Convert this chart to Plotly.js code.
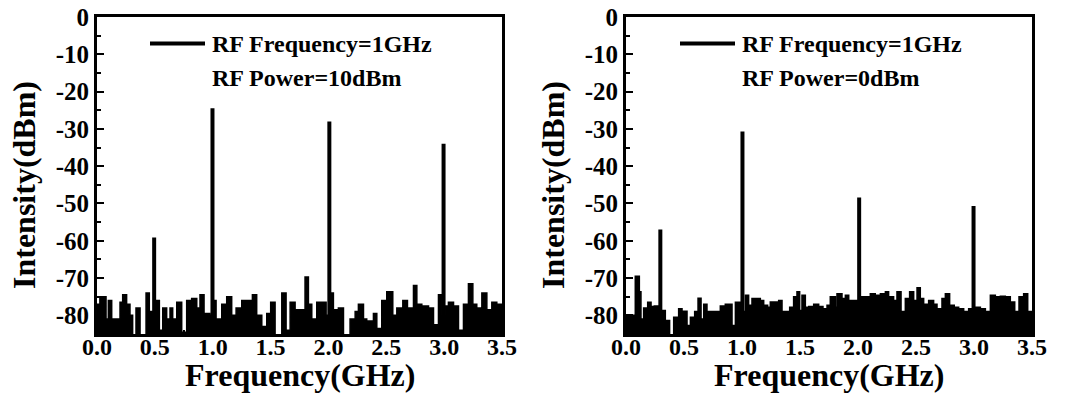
<!DOCTYPE html>
<html>
<head>
<meta charset="utf-8">
<script src="https://cdn.plot.ly/plotly-3.0.1.min.js"></script>
<style>
  html, body { margin: 0; padding: 0; background: #fff; }
  #chart { width: 1068px; height: 396px; }
</style>
</head>
<body>
<div id="chart"></div>
<script>
// RF spectra of the modulated signal at 1 GHz drive, two drive powers.

// Panel (a): RF Power = 10 dBm — noise floor envelope (step-wise)
const noiseFreqA = [0.000, 0.025, 0.040, 0.078, 0.098, 0.127, 0.156, 0.199, 0.222, 0.256, 0.285, 0.308, 0.337, 0.372, 0.424, 0.452, 0.481, 0.510, 0.539, 0.568, 0.602, 0.631, 0.654, 0.689, 0.732, 0.775, 0.818, 0.862, 0.890, 0.925, 0.977, 1.006, 1.029, 1.078, 1.121, 1.164, 1.202, 1.251, 1.300, 1.343, 1.380, 1.424, 1.467, 1.501, 1.539, 1.597, 1.634, 1.669, 1.712, 1.755, 1.798, 1.827, 1.856, 1.899, 1.942, 1.980, 2.014, 2.043, 2.086, 2.130, 2.187, 2.231, 2.259, 2.303, 2.331, 2.389, 2.418, 2.461, 2.504, 2.556, 2.591, 2.643, 2.683, 2.735, 2.764, 2.807, 2.865, 2.908, 2.951, 2.980, 3.009, 3.037, 3.081, 3.124, 3.167, 3.210, 3.248, 3.282, 3.326, 3.369, 3.412, 3.455, 3.500];
const noiseLevelA = [-77, -75, -75, -81, -76, -81, -81, -76.5, -74.5, -77, -80, -86, -78, -86, -74, -79, -80, -76, -84, -78, -81, -78, -81, -76.5, -84.5, -76, -75.5, -78, -74.5, -79.5, -80, -76, -81, -77, -75, -80, -78, -76, -76, -74.5, -80, -83, -79.5, -76.5, -86, -74, -84, -76.5, -78.5, -78.5, -69.7, -77, -81, -76.5, -76.5, -80, -74, -78.5, -78, -86, -81, -79, -77, -81, -81.5, -79.5, -83.5, -76, -73.7, -80, -78, -76, -78, -72, -77, -77.5, -78, -82.5, -74.5, -80, -77.5, -76.5, -77.5, -84, -77, -71.5, -77, -78, -74, -78.5, -76.5, -77, -77];
// Panel (a): spectral lines
const peakFreqA = [0.494, 0.998, 2.008, 2.995];
const peakLevelA = [-59.1, -24.5, -28.0, -34.0];

// Panel (b): RF Power = 0 dBm — noise floor envelope (step-wise)
const noiseFreqB = [0.000, 0.072, 0.080, 0.115, 0.129, 0.152, 0.187, 0.216, 0.244, 0.282, 0.310, 0.339, 0.376, 0.411, 0.454, 0.483, 0.526, 0.555, 0.592, 0.621, 0.647, 0.670, 0.698, 0.756, 0.813, 0.856, 0.914, 0.943, 0.986, 1.029, 1.057, 1.086, 1.124, 1.158, 1.187, 1.221, 1.244, 1.287, 1.316, 1.345, 1.374, 1.411, 1.445, 1.474, 1.497, 1.517, 1.546, 1.575, 1.618, 1.661, 1.698, 1.733, 1.761, 1.805, 1.819, 1.862, 1.891, 1.920, 1.977, 2.020, 2.063, 2.106, 2.149, 2.193, 2.236, 2.264, 2.307, 2.336, 2.371, 2.408, 2.445, 2.480, 2.509, 2.537, 2.566, 2.609, 2.652, 2.681, 2.724, 2.753, 2.790, 2.830, 2.868, 2.911, 2.954, 2.983, 3.011, 3.055, 3.098, 3.141, 3.184, 3.227, 3.270, 3.313, 3.351, 3.388, 3.428, 3.463, 3.500];
const noiseLevelB = [-80, -86, -69.5, -73.7, -81, -78, -76.5, -77.6, -77.5, -79, -78.7, -81.4, -86, -80.5, -78.2, -78.9, -82.7, -80.5, -79, -75.4, -81, -77, -79, -79, -77.5, -77, -82.7, -76.5, -79, -74.6, -77.3, -75.5, -75.5, -76, -77.3, -77.8, -76.4, -76.4, -76, -79, -79, -77.8, -75, -73.7, -78.7, -74.6, -77.8, -77.6, -77, -77.6, -78.2, -77.3, -75, -77.8, -74.2, -75.5, -74.6, -76, -76, -75, -75, -74.2, -74.6, -74.2, -73.7, -75, -76, -73.7, -79, -75.5, -73.7, -76, -72.6, -75.5, -77, -76, -77, -78.2, -75.5, -74.2, -77.3, -77.8, -78.2, -79, -78.2, -79, -77.8, -78.2, -79, -74.6, -75, -74.9, -75, -76.4, -79, -75, -74.2, -79, -79];
// Panel (b): spectral lines
const peakFreqB = [0.296, 1.004, 2.010, 2.996];
const peakLevelB = [-57.0, -30.7, -48.4, -50.7];

// Axis ticks and labels
const yTickVals = [0, -10, -20, -30, -40, -50, -60, -70, -80];
const yTickText = ['0', '-10', '-20', '-30', '-40', '-50', '-60', '-70', '-80'];
const xTickVals = [0, 0.5, 1.0, 1.5, 2.0, 2.5, 3.0, 3.5];
const xTickText = ['0.0', '0.5', '1.0', '1.5', '2.0', '2.5', '3.0', '3.5'];

// Legend / caption text
const legendLine = 'RF Frequency=1GHz';
const powerLabels = ['RF Power=10dBm', 'RF Power=0dBm'];
const xTitle = 'Frequency(GHz)';
const yTitle = 'Intensity(dBm)';

const FONT = 'Liberation Serif';
const Y_MIN = -85, Y_MAX = 0, FLOOR = -95;

function spikes(freqs, levels) {
  const x = [], y = [];
  freqs.forEach((f, i) => { x.push(f, f, null); y.push(FLOOR, levels[i], null); });
  return { x, y };
}

function panelTraces(nf, nl, pf, pl, xa, ya) {
  const s = spikes(pf, pl);
  return [
    { x: [0, 3.5], y: [FLOOR, FLOOR], xaxis: xa, yaxis: ya, mode: 'lines',
      line: { width: 0, color: '#000' }, hoverinfo: 'skip', showlegend: false },
    { x: nf, y: nl, xaxis: xa, yaxis: ya, mode: 'lines', line: { shape: 'hv', width: 1.5, color: '#000' },
      fill: 'tonexty', fillcolor: '#000', showlegend: false },
    { x: s.x, y: s.y, xaxis: xa, yaxis: ya, mode: 'lines', line: { width: 4, color: '#000' },
      showlegend: false }
  ];
}

const data = [
  ...panelTraces(noiseFreqA, noiseLevelA, peakFreqA, peakLevelA, 'x', 'y'),
  ...panelTraces(noiseFreqB, noiseLevelB, peakFreqB, peakLevelB, 'x2', 'y2')
];

const W = 1068, H = 396;
const TOP = 17, BOTTOM = 334;
const plotH = BOTTOM - TOP;
const px = v => v / W;
const py = v => (BOTTOM - v) / plotH;
const boldFont = size => ({ family: FONT, size, color: '#000', weight: 'bold' });

function xAxis(domain, anchor) {
  return {
    domain, anchor, range: [0, 3.5], tickvals: xTickVals, ticktext: xTickText,
    ticks: 'inside', ticklen: 7, tickwidth: 2, tickcolor: '#000',
    minor: { tickvals: [0.25, 0.75, 1.25, 1.75, 2.25, 2.75, 3.25], ticks: 'inside', ticklen: 4, tickwidth: 2, tickcolor: '#000' },
    showline: true, linewidth: 3, linecolor: '#000', mirror: true,
    showgrid: false, zeroline: false,
    ticklabelstandoff: -11,
    tickfont: boldFont(24)
  };
}
function yAxis(anchor) {
  return {
    domain: [0, 1], anchor, range: [Y_MIN, Y_MAX], tickvals: yTickVals, ticktext: yTickText,
    ticks: 'inside', ticklen: 7, tickwidth: 2, tickcolor: '#000',
    minor: { tickvals: [-5, -15, -25, -35, -45, -55, -65, -75], ticks: 'inside', ticklen: 4, tickwidth: 2, tickcolor: '#000' },
    showline: true, linewidth: 3, linecolor: '#000', mirror: true,
    showgrid: false, zeroline: false,
    tickfont: boldFont(25)
  };
}

const domA = [px(97), px(502)];
const domB = [px(626), px(1032)];

function legendBits(x0line, x1line, xText, power) {
  const shapes = [{ type: 'line', xref: 'paper', yref: 'paper', x0: px(x0line), x1: px(x1line),
    y0: py(43.5), y1: py(43.5), line: { color: '#000', width: 4 } }];
  const ann = [
    { xref: 'paper', yref: 'paper', x: px(xText), y: py(44), xanchor: 'left', yanchor: 'middle',
      text: legendLine, showarrow: false, font: boldFont(24) },
    { xref: 'paper', yref: 'paper', x: px(xText), y: py(78), xanchor: 'left', yanchor: 'middle',
      text: power, showarrow: false, font: boldFont(24) }
  ];
  return { shapes, ann };
}
const legA = legendBits(150, 205, 210, powerLabels[0]);
const legB = legendBits(680, 735, 740, powerLabels[1]);

// axis titles placed as annotations for exact positioning
function yTitleAnn(xc) {
  return { xref: 'paper', yref: 'paper', x: px(xc), y: py(185), xanchor: 'center', yanchor: 'middle',
    textangle: -90, text: yTitle, showarrow: false, font: boldFont(32) };
}
function xTitleAnn(xc) {
  return { xref: 'paper', yref: 'paper', x: px(xc), y: py(375), xanchor: 'center', yanchor: 'middle',
    text: xTitle, showarrow: false, font: boldFont(32), borderpad: 0 };
}

const layout = {
  width: W, height: H,
  margin: { l: 0, r: 0, t: TOP, b: H - BOTTOM },
  paper_bgcolor: '#fff', plot_bgcolor: '#fff',
  showlegend: false,
  xaxis: xAxis(domA, 'y'),
  yaxis: yAxis('x'),
  xaxis2: xAxis(domB, 'y2'),
  yaxis2: yAxis('x2'),
  shapes: [...legA.shapes, ...legB.shapes],
  annotations: [...legA.ann, ...legB.ann, yTitleAnn(24), yTitleAnn(553), xTitleAnn(299.5), xTitleAnn(829)]
};

Plotly.newPlot('chart', data, layout, { staticPlot: true, displayModeBar: false });
</script>
</body>
</html>
